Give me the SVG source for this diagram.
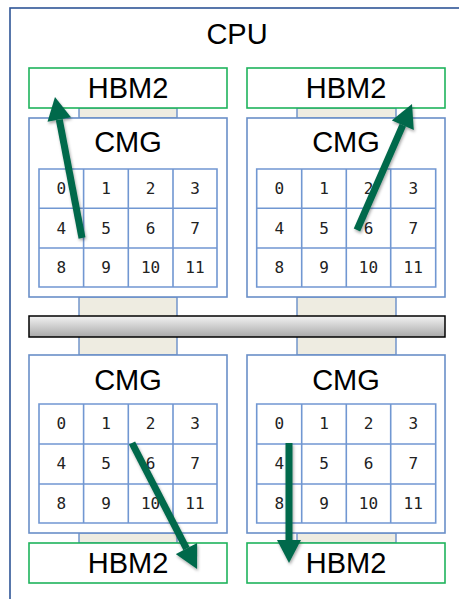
<svg xmlns="http://www.w3.org/2000/svg" width="459" height="599" viewBox="0 0 459 599">
  <style>
    .cpu { fill: #ffffff; stroke: #2f5597; stroke-width: 1.6; }
    .hbm { fill: #ffffff; stroke: #1fb35c; stroke-width: 1.6; }
    .cmg { fill: #ffffff; stroke: #6a8fc8; stroke-width: 1.6; }
    .link { fill: #eeece1; stroke: #6a8fc8; stroke-width: 1.4; }
    .grid { fill: none; stroke: #7197d2; stroke-width: 1.6; }
    .bus { fill: url(#busFill); stroke: #000000; stroke-width: 1.5; }
    .big { font-family: "Liberation Sans", Arial, sans-serif; font-size: 29px; fill: #000000; text-anchor: middle; }
    .num { font-family: "DejaVu Sans Mono", monospace; font-size: 16px; fill: #222222; text-anchor: middle; }
    .arrow { stroke: #03694b; stroke-width: 7; fill: none; stroke-linecap: butt; marker-end: url(#head); }
  </style>
  <defs>
    <linearGradient id="busFill" x1="0" y1="0" x2="0" y2="1">
      <stop offset="0" stop-color="#f2f2f2"/>
      <stop offset="1" stop-color="#a9a9a9"/>
    </linearGradient>
    <marker id="head" markerUnits="userSpaceOnUse" markerWidth="24" markerHeight="24" viewBox="0 0 23 24" refX="0" refY="12" orient="auto">
      <path d="M0,0 L23,12 L0,24 Z" fill="#03694b"/>
    </marker>
    <filter id="shade" filterUnits="userSpaceOnUse" x="0" y="0" width="459" height="599">
      <feDropShadow dx="1" dy="2" stdDeviation="1.5" flood-color="#000000" flood-opacity="0.35"/>
    </filter>
  </defs>

  <g id="cpu">
    <rect class="cpu" x="10" y="8" width="470" height="610"/>
    <text class="big" x="237" y="44">CPU</text>
  </g>

  <!-- links between HBM2, CMG and the bus -->
  <g id="links">
    <rect class="link" x="79" y="108" width="98" height="10"/>
    <rect class="link" x="297" y="108" width="99" height="10"/>
    <rect class="link" x="79" y="297" width="98" height="58"/>
    <rect class="link" x="297" y="297" width="99" height="58"/>
    <rect class="link" x="79" y="533" width="98" height="10"/>
    <rect class="link" x="297" y="533" width="99" height="10"/>
  </g>

  <g id="bus">
    <rect class="bus" x="29" y="316" width="416" height="21"/>
  </g>

  <g id="hbm-top-left">
    <rect class="hbm" x="29" y="68" width="198" height="40"/>
    <text class="big" x="128" y="98">HBM2</text>
  </g>
  <g id="hbm-top-right">
    <rect class="hbm" x="247" y="68" width="198" height="40"/>
    <text class="big" x="346" y="98">HBM2</text>
  </g>
  <g id="hbm-bottom-left">
    <rect class="hbm" x="29" y="543" width="198" height="40"/>
    <text class="big" x="128" y="573">HBM2</text>
  </g>
  <g id="hbm-bottom-right">
    <rect class="hbm" x="247" y="543" width="198" height="40"/>
    <text class="big" x="346" y="573">HBM2</text>
  </g>

  <g id="cmg-top-left">
    <rect class="cmg" x="29" y="118" width="198" height="179"/>
    <text class="big" x="128" y="152">CMG</text>
    <path class="grid" d="M39,169 H217 V287 H39 Z M39,208.3 H217 M39,248 H217 M83.6,169 V287 M128.3,169 V287 M173,169 V287"/>
    <g class="num">
      <text x="61.3" y="194">0</text><text x="106" y="194">1</text><text x="150.6" y="194">2</text><text x="195" y="194">3</text>
      <text x="61.3" y="234">4</text><text x="106" y="234">5</text><text x="150.6" y="234">6</text><text x="195" y="234">7</text>
      <text x="61.3" y="273">8</text><text x="106" y="273">9</text><text x="150.6" y="273">10</text><text x="195" y="273">11</text>
    </g>
  </g>
  <g id="cmg-top-right">
    <rect class="cmg" x="247" y="118" width="198" height="179"/>
    <text class="big" x="346" y="152">CMG</text>
    <path class="grid" d="M256.7,169 H435.7 V287 H256.7 Z M256.7,208.3 H435.7 M256.7,248 H435.7 M301.7,169 V287 M346.3,169 V287 M390.7,169 V287"/>
    <g class="num">
      <text x="279.2" y="194">0</text><text x="324" y="194">1</text><text x="368.5" y="194">2</text><text x="413.2" y="194">3</text>
      <text x="279.2" y="234">4</text><text x="324" y="234">5</text><text x="368.5" y="234">6</text><text x="413.2" y="234">7</text>
      <text x="279.2" y="273">8</text><text x="324" y="273">9</text><text x="368.5" y="273">10</text><text x="413.2" y="273">11</text>
    </g>
  </g>
  <g id="cmg-bottom-left">
    <rect class="cmg" x="29" y="355" width="198" height="178"/>
    <text class="big" x="128" y="390">CMG</text>
    <path class="grid" d="M39,404 H217 V523 H39 Z M39,444 H217 M39,484 H217 M83.6,404 V523 M128.3,404 V523 M173,404 V523"/>
    <g class="num">
      <text x="61.3" y="429">0</text><text x="106" y="429">1</text><text x="150.6" y="429">2</text><text x="195" y="429">3</text>
      <text x="61.3" y="469">4</text><text x="106" y="469">5</text><text x="150.6" y="469">6</text><text x="195" y="469">7</text>
      <text x="61.3" y="509">8</text><text x="106" y="509">9</text><text x="150.6" y="509">10</text><text x="195" y="509">11</text>
    </g>
  </g>
  <g id="cmg-bottom-right">
    <rect class="cmg" x="247" y="355" width="198" height="178"/>
    <text class="big" x="346" y="390">CMG</text>
    <path class="grid" d="M256.7,404 H435.7 V523 H256.7 Z M256.7,444 H435.7 M256.7,484 H435.7 M301.7,404 V523 M346.3,404 V523 M390.7,404 V523"/>
    <g class="num">
      <text x="279.2" y="429">0</text><text x="324" y="429">1</text><text x="368.5" y="429">2</text><text x="413.2" y="429">3</text>
      <text x="279.2" y="469">4</text><text x="324" y="469">5</text><text x="368.5" y="469">6</text><text x="413.2" y="469">7</text>
      <text x="279.2" y="509">8</text><text x="324" y="509">9</text><text x="368.5" y="509">10</text><text x="413.2" y="509">11</text>
    </g>
  </g>

  <!-- memory access paths from cores to HBM2 -->
  <g id="connectors" filter="url(#shade)">
    <line class="arrow" x1="82" y1="238" x2="59.3" y2="119.6"/>
    <line class="arrow" x1="357" y1="230" x2="402.8" y2="125.1"/>
    <line class="arrow" x1="132" y1="443" x2="186.5" y2="548.6"/>
    <line class="arrow" x1="289" y1="443" x2="289" y2="540"/>
  </g>
</svg>
